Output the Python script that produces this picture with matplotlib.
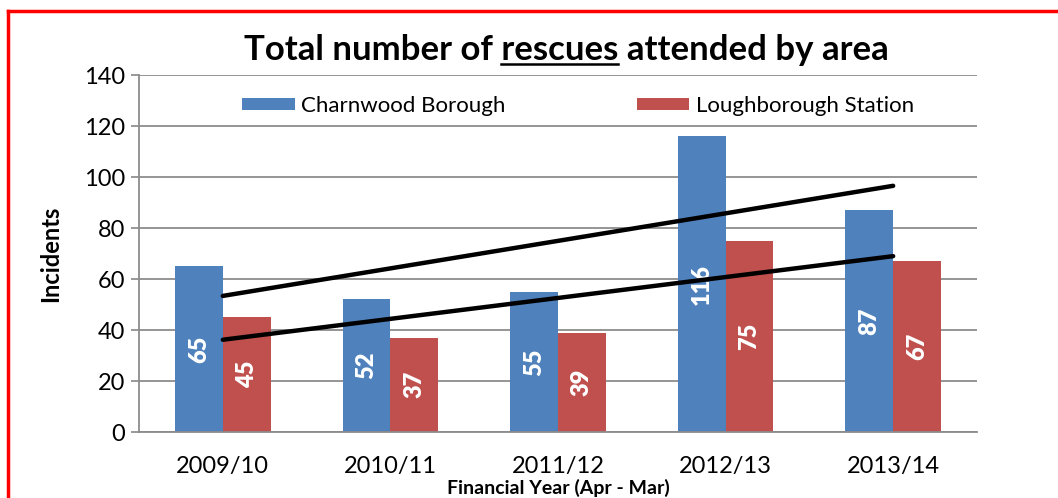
import numpy as np
import matplotlib
matplotlib.use("Agg")
import matplotlib.pyplot as plt
from matplotlib.lines import Line2D

years = ["2009/10", "2010/11", "2011/12", "2012/13", "2013/14"]
charnwood = [65, 52, 55, 116, 87]
loughborough = [45, 37, 39, 75, 67]
series_names = ["Charnwood Borough", "Loughborough Station"]
title_text = "Total number of rescues attended by area"
underlined_word = "rescues"

plt.rcParams['font.family'] = ['Lato', 'DejaVu Sans']

fig = plt.figure(figsize=(10.58, 4.98), dpi=100)
ax = fig.add_axes([0.1314, 0.1325, 0.792, 0.7165])

x = np.arange(len(years))
w = 0.2857
blue, red = "#4F81BD", "#C0504D"
b1 = ax.bar(x - w / 2, charnwood, w, color=blue, label=series_names[0], zorder=2)
b2 = ax.bar(x + w / 2, loughborough, w, color=red, label=series_names[1], zorder=2)

# value labels, rotated, in the middle of each bar
for bars in (b1, b2):
    for r in bars:
        h = r.get_height()
        ax.text(r.get_x() + r.get_width() / 2, h / 2, str(int(h)), rotation=90,
                ha='center', va='center', color='white', fontweight='heavy',
                fontsize=17, zorder=3)

# linear trend lines (least squares over the categories)
for vals in (charnwood, loughborough):
    k, c = np.polyfit(x, vals, 1)
    ax.plot([x[0], x[-1]], [k * x[0] + c, k * x[-1] + c], color='black',
            lw=3.2, solid_capstyle='round', zorder=4)

ax.set_ylim(0, 140)
ax.set_yticks(range(0, 141, 20))
ax.set_xlim(-0.5, len(years) - 0.5)
ax.set_xticks(x)
ax.set_xticklabels(years, fontsize=17)
ax.tick_params(axis='y', labelsize=17, length=6, width=1.2, color='#888888', pad=4)
ax.tick_params(axis='x', length=0, pad=17)
ax.yaxis.grid(True, color='#8c8c8c', lw=1.3, zorder=0)
ax.set_axisbelow(True)
for s in ('top', 'right'):
    ax.spines[s].set_visible(False)
for s in ('left', 'bottom'):
    ax.spines[s].set_color('#8c8c8c')
    ax.spines[s].set_linewidth(1.3)

ax.set_ylabel("Incidents", fontsize=17, fontweight='bold', va='center')
ax.yaxis.set_label_coords(-0.106, 0.5)
ax.set_xlabel("Financial Year (Apr - Mar)", fontsize=14, fontweight='bold', va='center')
ax.xaxis.set_label_coords(0.5, -0.157)

ax.legend(loc='upper center', bbox_to_anchor=(0.524, 1.0), ncol=2, frameon=False,
          fontsize=16, handlelength=2.35, handleheight=0.45, handletextpad=0.3,
          columnspacing=5.9, borderaxespad=0.55)

# title, with one word underlined (measure the text to place the underline)
tx, ty = 0.535, 0.9
title = fig.text(tx, ty, title_text, ha='center', va='center', fontsize=25, fontweight='bold')
rend = fig.canvas.get_renderer()
full_bb = title.get_window_extent(rend)
upto = title_text[:title_text.index(underlined_word) + len(underlined_word)]
tmp = fig.text(0, 0, upto, fontsize=25, fontweight='bold')
w_upto = tmp.get_window_extent(rend).width
tmp.set_text(underlined_word)
w_word = tmp.get_window_extent(rend).width
tmp.remove()
fw = fig.bbox.width
fh = fig.bbox.height
u_x1 = (full_bb.x0 + w_upto) / fw
u_x0 = (full_bb.x0 + w_upto - w_word) / fw
u_y = (full_bb.y0 + 2) / fh
fig.add_artist(Line2D([u_x0, u_x1], [u_y, u_y], color='black', lw=1.8,
                      transform=fig.transFigure))

# red frame around the picture (left and top edges visible)
fig.add_artist(Line2D([0.008, 0.008], [0.0, 0.978], color='red', lw=2.5,
                      transform=fig.transFigure))
fig.add_artist(Line2D([0.008, 1.0], [0.978, 0.978], color='red', lw=2.5,
                      transform=fig.transFigure))

fig.savefig("out.png", dpi=100)
